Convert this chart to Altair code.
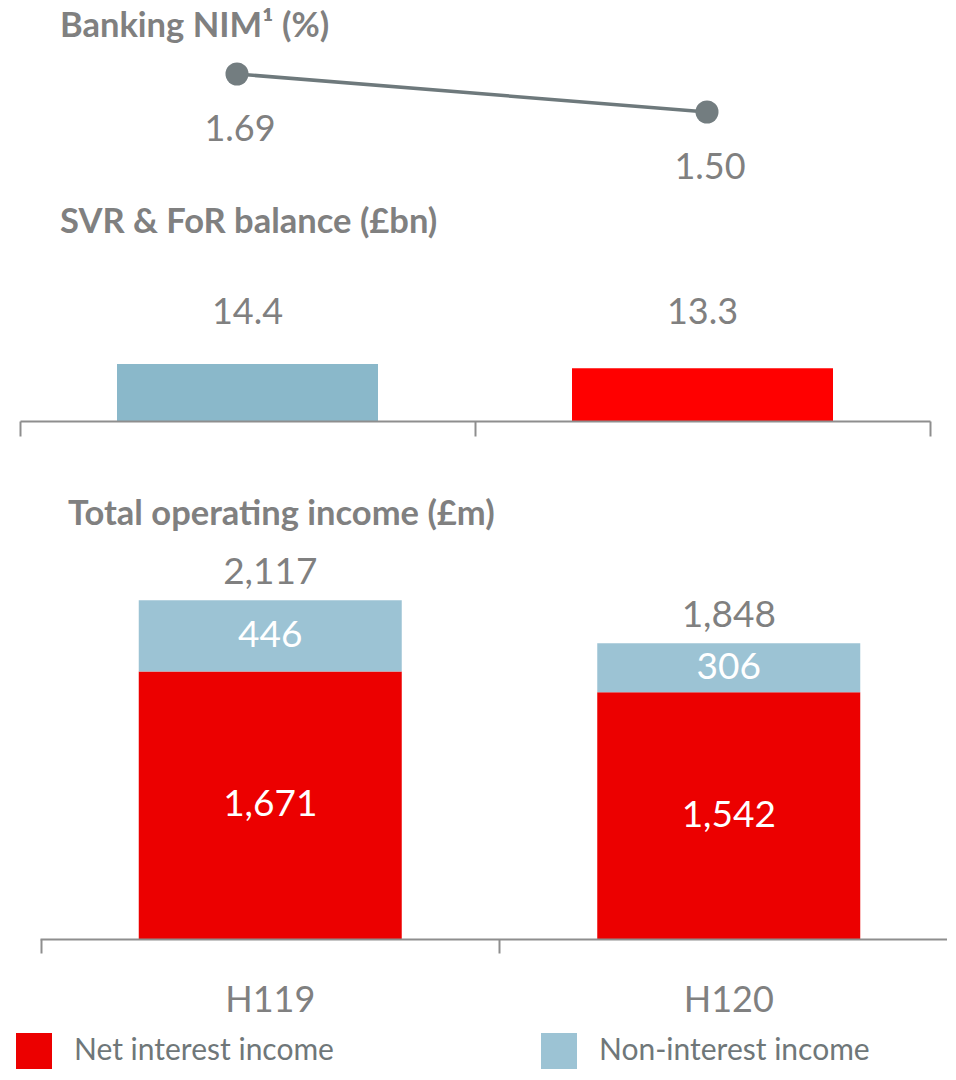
import altair as alt
import pandas as pd

# ---- data ----
periods = ["H119", "H120"]
nim = [1.69, 1.50]
svr_balance = [14.4, 13.3]
net_interest = [1671, 1542]
non_interest = [446, 306]
totals = [2117, 1848]
series_names = ["Net interest income", "Non-interest income"]
titles = ["Banking NIM¹ (%)", "SVR & FoR balance (£bn)", "Total operating income (£m)"]

GRAY = "#808080"
AXIS_GRAY = "#8e8e8e"
FONT = "Lato"
W = 939

nim_df = pd.DataFrame({"period": periods, "nim": nim,
                       "label": [f"{v:.2f}" for v in nim]})
svr_df = pd.DataFrame({"period": periods, "balance": svr_balance,
                       "label": [f"{v:.1f}" for v in svr_balance]})
inc_rows = []
for i, p in enumerate(periods):
    inc_rows.append({"period": p, "series": series_names[0], "value": net_interest[i], "order": 0})
    inc_rows.append({"period": p, "series": series_names[1], "value": non_interest[i], "order": 1})
inc_df = pd.DataFrame(inc_rows)
inc_df["label"] = inc_df["value"].map(lambda v: f"{v:,}")
tot_df = pd.DataFrame({"period": periods, "total": totals,
                       "label": [f"{v:,}" for v in totals]})


def title_layer(text, x, y):
    return alt.Chart(pd.DataFrame({"t": [text]})).mark_text(
        align="left", baseline="alphabetic", fontSize=34.5, fontWeight="bold",
        font=FONT, color=GRAY
    ).encode(x=alt.value(x), y=alt.value(y), text="t:N")


# ---- panel 1: Banking NIM ----
x1 = alt.X("period:N", axis=None,
           scale=alt.Scale(domain=periods, range=[-6, 934], paddingInner=0, paddingOuter=0))
y1 = alt.Y("nim:Q", axis=None,
           scale=alt.Scale(domain=[1.085, 2.02], nice=False, zero=False))
base1 = alt.Chart(nim_df).encode(x=x1, y=y1)
p1 = alt.layer(
    base1.mark_line(color="#6e797c", strokeWidth=3.5),
    base1.mark_circle(size=531, color="#737d80", opacity=1),
    base1.mark_text(dy=56, dx=3, fontSize=36, font=FONT, color=GRAY,
                    baseline="middle").encode(text="label:N"),
    title_layer(titles[0], 52, 29),
).properties(width=W, height=187)

# ---- panel 2: SVR & FoR balance ----
x2 = alt.X("period:N",
           scale=alt.Scale(domain=periods, range=[12, 922], paddingInner=0, paddingOuter=0),
           axis=alt.Axis(title=None, labels=False, tickBand="extent", tickSize=15,
                         domainColor=AXIS_GRAY, tickColor=AXIS_GRAY, domainWidth=2,
                         tickWidth=2, zindex=1))
y2 = alt.Y("balance:Q", axis=None, scale=alt.Scale(domain=[0, 57], nice=False))
p2 = alt.layer(
    alt.Chart(svr_df).mark_bar(size=261).encode(
        x=x2, y=y2,
        color=alt.Color("period:N", legend=None,
                        scale=alt.Scale(domain=periods, range=["#8ab8ca", "#ff0000"]))),
    alt.Chart(svr_df).mark_text(fontSize=36, font=FONT, color=GRAY, baseline="middle").encode(
        x=x2, y=alt.value(118), text="label:N"),
    title_layer(titles[1], 52, 38),
).properties(width=W, height=226)

# ---- panel 3: Total operating income ----
# bars/ticks/labels: bands of ~458 px starting at the left tick (second band runs past the edge)
x3 = alt.X("period:N",
           scale=alt.Scale(domain=periods, range=[33, 950], paddingInner=0, paddingOuter=0),
           axis=alt.Axis(title=None, orient="bottom", domain=False, bandPosition=0,
                         tickSize=14, tickColor=AXIS_GRAY, tickWidth=2, zindex=1,
                         labelFont=FONT, labelFontSize=36, labelColor=GRAY,
                         labelPadding=30, labelAngle=0))
# baseline of the axis, stopping at the chart's right edge
x3_line = alt.X("period:N",
                scale=alt.Scale(domain=periods, range=[32, W], paddingInner=0, paddingOuter=0),
                axis=alt.Axis(title=None, orient="bottom", labels=False, ticks=False,
                              domainColor=AXIS_GRAY, domainWidth=2, zindex=1))
yscale3 = alt.Scale(domain=[0, 3237], nice=False)
stacked = alt.Chart(inc_df).transform_stack(
    stack="value", groupby=["period"], as_=["v0", "v1"],
    sort=[alt.SortField("order", order="ascending")])
bars3 = stacked.mark_bar(size=263).encode(
    x=x3,
    y=alt.Y("v0:Q", axis=None, scale=yscale3),
    y2="v1:Q",
    color=alt.Color("series:N",
                    scale=alt.Scale(domain=series_names, range=["#ec0000", "#9cc3d4"]),
                    legend=alt.Legend(orient="none", legendX=8, legendY=612,
                                      direction="horizontal", title=None,
                                      symbolType="square", symbolSize=1296,
                                      symbolStrokeWidth=0, symbolOpacity=1,
                                      labelFont=FONT, labelFontSize=30,
                                      labelColor="#6f7779", labelOffset=22,
                                      columnPadding=207, labelLimit=400)))
seg_text = stacked.transform_calculate(mid="(datum.v0 + datum.v1) / 2").mark_text(
    fontSize=37, font=FONT, color="white", baseline="middle").encode(
    x=x3, y=alt.Y("mid:Q", axis=None, scale=yscale3), text="label:N")
tot_text = alt.Chart(tot_df).mark_text(
    fontSize=37, font=FONT, color=GRAY, baseline="alphabetic", dy=-16).encode(
    x=x3, y=alt.Y("total:Q", axis=None, scale=yscale3), text="label:N")
main3 = alt.layer(bars3, seg_text, tot_text, title_layer(titles[2], 60, 104))
line3 = alt.Chart(tot_df).mark_point(opacity=0, size=0).encode(
    x=x3_line, y=alt.Y("total:Q", axis=None, scale=yscale3))
p3 = alt.layer(main3, line3).resolve_scale(x="independent").properties(
    width=W, height=518)

chart = alt.vconcat(p1, p2, p3, spacing=0, bounds="flush", padding=0).resolve_scale(
    color="independent").resolve_legend(color="independent").configure_view(stroke=None)

chart.save("out.html", embed_options={"renderer": "svg", "actions": False})
